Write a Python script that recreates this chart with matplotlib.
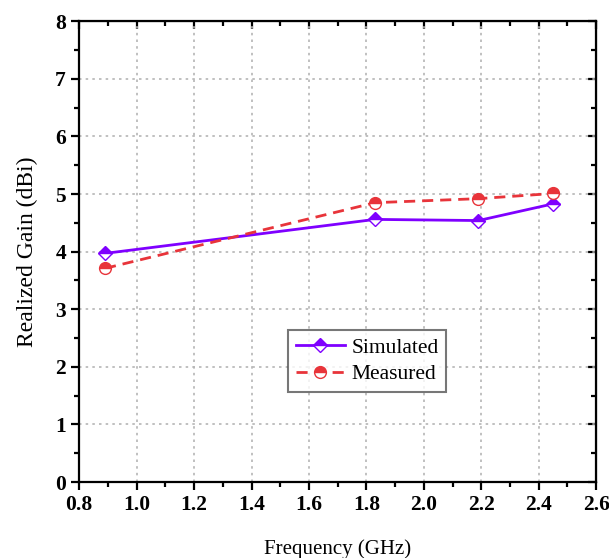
import matplotlib.pyplot as plt
import numpy as np
from matplotlib.ticker import MultipleLocator

plt.rcParams['font.family'] = ['Liberation Serif', 'DejaVu Serif']

freq = [0.89, 1.83, 2.19, 2.45]
simulated = [3.97, 4.56, 4.54, 4.83]
measured = [3.71, 4.85, 4.92, 5.01]

fig = plt.figure(figsize=(6.09, 5.58), dpi=100)
ax = fig.add_axes([0.130, 0.136, 0.849, 0.826])

ax.plot(freq, simulated, color="#7f00ff", lw=2, marker="D", ms=7.5,
        fillstyle="top", markerfacecoloralt="white", mec="#7f00ff", mew=1, label="Simulated")
ax.plot(freq, measured, color="#e8343a", lw=2, ls=(0, (4, 2.5)), marker="o", ms=8.5,
        fillstyle="top", markerfacecoloralt="white", mec="#e8343a", mew=1, label="Measured")

ax.set_xlim(0.8, 2.6)
ax.set_ylim(0, 8)
ax.xaxis.set_major_locator(MultipleLocator(0.2))
ax.xaxis.set_minor_locator(MultipleLocator(0.1))
ax.yaxis.set_major_locator(MultipleLocator(1))
ax.yaxis.set_minor_locator(MultipleLocator(0.5))

ax.grid(True, which="major", color="#b5b5b5", ls=(0, (1.5, 2.5)), lw=1.2)

for s in ax.spines.values():
    s.set_linewidth(1.6)

ax.tick_params(which="both", direction="out", width=1.6, top=False, right=False,
               labelsize=15.5)
ax.tick_params(which="major", length=6)
ax.tick_params(which="minor", length=3.5)
for lab in ax.get_xticklabels() + ax.get_yticklabels():
    lab.set_fontweight("bold")

# mirrored inward ticks on top/right
sec_x = ax.secondary_xaxis("top")
sec_x.xaxis.set_major_locator(MultipleLocator(0.2))
sec_x.xaxis.set_minor_locator(MultipleLocator(0.1))
sec_x.tick_params(which="both", direction="in", width=1.6, labeltop=False)
sec_x.tick_params(which="major", length=6)
sec_x.tick_params(which="minor", length=3.5)
sec_y = ax.secondary_yaxis("right")
sec_y.yaxis.set_major_locator(MultipleLocator(1))
sec_y.yaxis.set_minor_locator(MultipleLocator(0.5))
sec_y.tick_params(which="both", direction="in", width=1.6, labelright=False)
sec_y.tick_params(which="major", length=6)
sec_y.tick_params(which="minor", length=3.5)

ax.set_xlabel("Frequency (GHz)", fontsize=15, labelpad=17)
ax.set_ylabel("Realized Gain (dBi)", fontsize=17, labelpad=12)

leg = ax.legend(loc="center", bbox_to_anchor=(0.557, 0.263), fontsize=15.5,
                frameon=True, fancybox=False, edgecolor="#555555",
                handlelength=2.3, borderpad=0.35, labelspacing=0.3, handletextpad=0.3)
leg.get_frame().set_linewidth(1.5)

fig.savefig("out.png", dpi=100)
